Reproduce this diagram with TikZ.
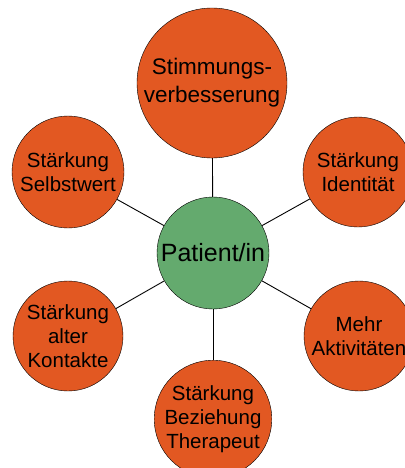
\documentclass[tikz,border=0pt]{standalone}
\usepackage{fontspec}
\setmainfont{Liberation Sans}

\definecolor{zielorange}{RGB}{226,88,34}
\definecolor{patientgruen}{RGB}{100,170,110}

\tikzset{
    ziel/.style={draw=black, circle, fill=zielorange, inner sep=0pt, align=center,
                 font=\fontsize{20.5}{24}\selectfont},
    patient/.style={draw=black, circle, fill=patientgruen, inner sep=0pt, align=center,
                 font=\fontsize{25}{30}\selectfont},
    verbindung/.style={draw=black, line width=0.9pt}
}

\begin{document}
\begin{tikzpicture}[x=1pt, y=-1pt]
        \useasboundingbox (0,0) rectangle (404,468);
        % --- Mitte: Patient/in ---
        \node[patient, minimum size=112pt] (Patient) at (213,253) {Patient/in};
        
        % --- Ziele rund um die Mitte ---
        \node[ziel, minimum size=150pt, font=\fontsize{22.5}{28}\selectfont] (Stimmung) at (212,83) {Stimmungs-\\verbesserung};
        \node[ziel, minimum size=112pt] (Selbstwert) at (68,172) {Stärkung\\Selbstwert};
        \node[ziel, minimum size=110pt] (Identitaet) at (358,172) {Stärkung\\Identität};
        \node[ziel, minimum size=110pt] (Kontakte) at (68,336) {Stärkung\\alter\\Kontakte};
        \node[ziel, minimum size=110pt] (Aktivitaeten) at (359,336) {Mehr\\Aktivitäten};
        \node[ziel, minimum size=114pt] (Beziehung) at (213,419) {Stärkung\\Beziehung\\Therapeut};
        
        % --- Verbindungen von der Mitte aus ---
        \draw[verbindung] (Patient) -- (Stimmung);
        \draw[verbindung] (Patient) -- (Selbstwert);
        \draw[verbindung] (Patient) -- (Identitaet);
        \draw[verbindung] (Patient) -- (Kontakte);
        \draw[verbindung] (Patient) -- (Aktivitaeten);
        \draw[verbindung] (Patient) -- (Beziehung);
        
    \end{tikzpicture}
\end{document}
